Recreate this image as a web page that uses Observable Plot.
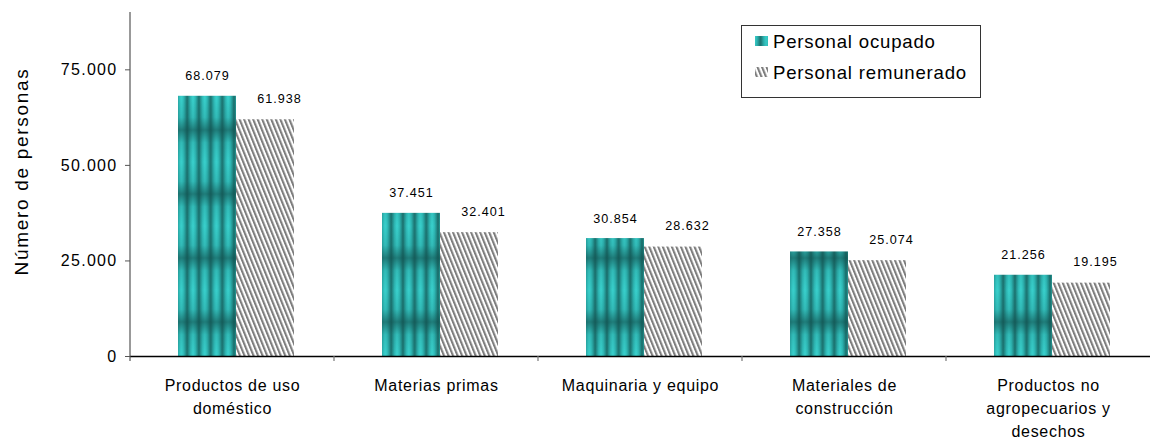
<!DOCTYPE html>
<html>
<head>
<meta charset="utf-8">
<script src="https://cdn.jsdelivr.net/npm/d3@7"></script>
<script src="https://cdn.jsdelivr.net/npm/@observablehq/plot@0.6"></script>
<style>
  html, body { margin: 0; padding: 0; background: #fff; }
  #chart { position: relative; width: 1150px; height: 439px; }
  svg { font-family: "Liberation Sans", Arial, sans-serif; }
  .vlabel text, text.vlabel { letter-spacing: 1px; }
  .ytick text { letter-spacing: 1.3px; }
  .fxtick text { letter-spacing: 0.7px; }
</style>
</head>
<body>
<div id="chart"></div>
<script>
const categories = ["Productos de uso doméstico", "Materias primas", "Maquinaria y equipo", "Materiales de construcción", "Productos no agropecuarios y desechos"];
const categoryLabels = ["Productos de uso\ndoméstico", "Materias primas", "Maquinaria y equipo", "Materiales de\nconstrucción", "Productos no\nagropecuarios y\ndesechos"];
const series = ["Personal ocupado", "Personal remunerado"];
const ocupado = [68079, 37451, 30854, 27358, 21256];
const remunerado = [61938, 32401, 28632, 25074, 19195];
const yTicks = [0, 25000, 50000, 75000];
const yTitle = "Número de personas";

const data = categories.flatMap((c, i) => [
  {cat: c, series: series[0], value: ocupado[i]},
  {cat: c, series: series[1], value: remunerado[i]}
]);

const fmt = d3.formatLocale({decimal: ",", thousands: ".", grouping: [3], currency: ["", ""]}).format(",d");

const plot = Plot.plot({
  width: 1150,
  height: 439,
  marginLeft: 130,
  marginRight: 0,
  marginTop: 12,
  marginBottom: 83,
  style: {background: "white", fontFamily: "'Liberation Sans', Arial, sans-serif", color: "#000"},
  fx: {domain: categories, padding: 0, label: null},
  x: {domain: series, paddingInner: 0, paddingOuter: 0.744, align: 0.54, axis: null},
  y: {domain: [0, 90000], label: null},
  color: {domain: series, range: ["url(#tealPat)", "url(#hatchPat)"]},
  marks: [
    Plot.barY(data, {fx: "cat", x: "series", y: "value", fill: "series"}),
    Plot.ruleY([0], {stroke: "#000", strokeWidth: 1.4}),
    Plot.text(data.filter(d => d.series === series[0]), {
      fx: "cat", x: "series", y: "value", text: d => fmt(d.value),
      dy: -20, fontSize: 12.6, fill: "#000", className: "vlabel"
    }),
    Plot.text(data.filter(d => d.series === series[1]), {
      fx: "cat", x: "series", y: "value", text: d => fmt(d.value),
      dy: -21, dx: 14, fontSize: 12.6, fill: "#000", className: "vlabel"
    }),
    Plot.axisY({ticks: yTicks, tickSize: 5, tickPadding: 8, tickFormat: fmt, fontSize: 16, label: null, stroke: "#555", className: "ytick"}),
    Plot.axisFx({anchor: "bottom", tickSize: 0, tickPadding: 18, fontSize: 16, lineHeight: 1.43, label: null,
      tickFormat: d => categoryLabels[categories.indexOf(d)], className: "fxtick"})
  ]
});

document.getElementById("chart").appendChild(plot);

const svg = d3.select(plot);
const defs = svg.insert("defs", ":first-child");

// Teal striped pattern
const gH = defs.append("linearGradient").attr("id", "tealH").attr("x1", 0).attr("x2", 1).attr("y1", 0).attr("y2", 0);
[[0, "#1a6d6a"], [0.12, "#238f8c"], [0.3, "#2fbab7"], [0.5, "#3ad3cf"], [0.7, "#2fbab7"], [0.88, "#238f8c"], [1, "#1a6d6a"]]
  .forEach(([o, c]) => gH.append("stop").attr("offset", o).attr("stop-color", c));
const gV = defs.append("linearGradient").attr("id", "tealV").attr("x1", 0).attr("x2", 0).attr("y1", 0).attr("y2", 1);
[[0, 0], [0.3, 0.15], [0.5, 0.65], [0.7, 0.15], [1, 0]]
  .forEach(([o, a]) => gV.append("stop").attr("offset", o).attr("stop-color", "#114f4d").attr("stop-opacity", a));
const tp = defs.append("pattern").attr("id", "tealPat").attr("patternUnits", "userSpaceOnUse")
  .attr("width", 11.7).attr("height", 64).attr("y", -30);
tp.append("rect").attr("width", 11.7).attr("height", 64).attr("fill", "url(#tealH)");
tp.append("rect").attr("width", 11.7).attr("height", 64).attr("fill", "url(#tealV)");

// Hatch pattern
const hp = defs.append("pattern").attr("id", "hatchPat").attr("patternUnits", "userSpaceOnUse")
  .attr("width", 4.2).attr("height", 10).attr("patternTransform", "rotate(-22)");
hp.append("rect").attr("width", 4.2).attr("height", 10).attr("fill", "#fff");
hp.append("rect").attr("width", 2.1).attr("height", 10).attr("fill", "#7d7d7d");

// axis line, category boundary ticks, title, legend
const y = plot.scale("y");
const fx = plot.scale("fx");
const y0 = y.apply(0), yTop = y.apply(90000);
const x0 = fx.apply(categories[0]);
svg.append("line").attr("x1", x0).attr("x2", x0).attr("y1", yTop).attr("y2", y0 + 5)
  .attr("stroke", "#555").attr("stroke-width", 1.2);
categories.slice(1).forEach(c => {
  const xx = fx.apply(c);
  svg.append("line").attr("x1", xx).attr("x2", xx).attr("y1", y0).attr("y2", y0 + 5)
    .attr("stroke", "#777").attr("stroke-width", 1.2);
});
svg.append("text").attr("transform", "translate(21,171.5) rotate(-90)")
  .attr("text-anchor", "middle").attr("dominant-baseline", "central")
  .attr("font-size", 19).style("letter-spacing", "1.7px").attr("fill", "#000").text(yTitle);

const lg = svg.append("g").attr("text-anchor", "start");
lg.append("rect").attr("x", 741.5).attr("y", 25.5).attr("width", 239).attr("height", 72)
  .attr("fill", "#fff").attr("stroke", "#333").attr("stroke-width", 1);
series.forEach((s, i) => {
  const cy = 41 + i * 31;
  lg.append("rect").attr("x", 755).attr("y", cy - 5).attr("width", 13).attr("height", 10)
    .attr("fill", i === 0 ? "url(#tealPat)" : "url(#hatchPat)");
  lg.append("text").attr("x", 773).attr("y", cy).attr("text-anchor", "start").attr("dominant-baseline", "central")
    .attr("font-size", 18.6).style("letter-spacing", "0.8px").attr("fill", "#000").text(s);
});
</script>
</body>
</html>
